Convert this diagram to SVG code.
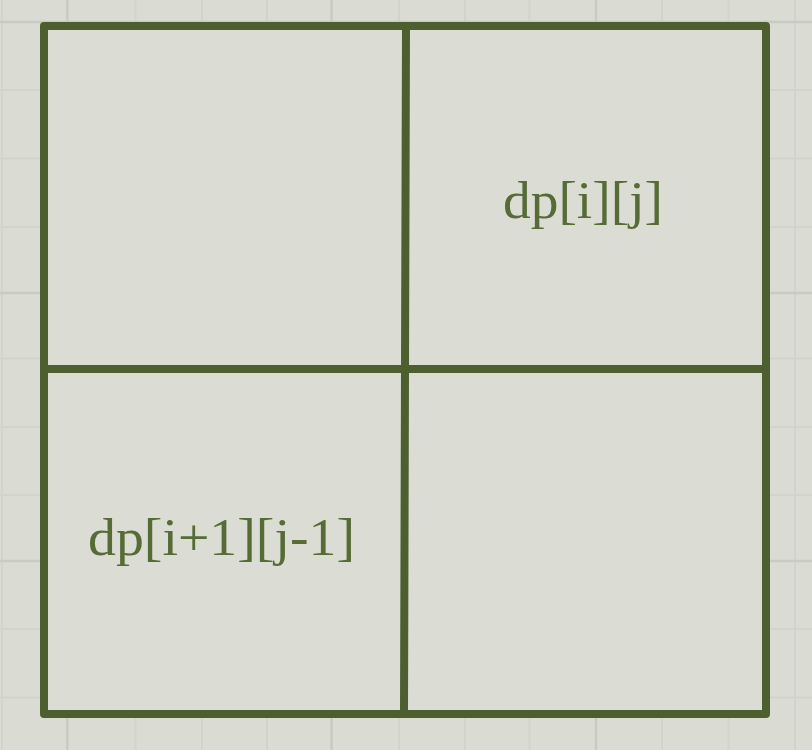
<svg xmlns="http://www.w3.org/2000/svg" width="812" height="750" viewBox="0 0 812 750">
<style>
.minor{stroke:#d1d4c9;stroke-width:2;fill:none}
.major{stroke:#c8ccbf;stroke-width:2.5;fill:none}
.edge{stroke:#4d5f2e;stroke-width:8;fill:none;stroke-linecap:round;stroke-linejoin:round}
.lbl{font-family:"Liberation Serif","Times New Roman",serif;font-size:52px;fill:#566b35}
</style>
<rect x="0" y="0" width="812" height="750" fill="#dadcd3"/>
<g id="grid">
<path class="minor" d="M2 0V750M135.5 0V750M202 0V750M267 0V750M399 0V750M465 0V750M529.5 0V750M662 0V750M728.5 0V750M795 0V750"/>
<path class="major" d="M67.3 0V750M331.6 0V750M596 0V750"/>
<path class="minor" d="M0 90H812M0 158.5H812M0 227H812M0 358.5H812M0 427H812M0 495H812M0 629H812M0 697.6H812"/>
<path class="major" d="M0 22H812M0 293H812M0 561H812"/>
</g>
<g id="cell-tl"><rect x="44" y="26" width="361" height="343" fill="#dbddd4"/></g>
<g id="cell-tr"><rect x="405" y="26" width="361" height="343" fill="#dbddd4"/>
<text class="lbl" x="503" y="218" textLength="160" lengthAdjust="spacingAndGlyphs">dp[i][j]</text></g>
<g id="cell-bl"><rect x="44" y="369" width="361" height="345" fill="#dbddd4"/>
<text class="lbl" x="88" y="555" textLength="267" lengthAdjust="spacingAndGlyphs">dp[i+1][j-1]</text></g>
<g id="cell-br"><rect x="405" y="369" width="361" height="345" fill="#dbddd4"/></g>
<g id="connectors">
<rect class="edge" x="44" y="26" width="722" height="688"/>
<path class="edge" d="M406 26L404 714"/>
<path class="edge" d="M44 369H766"/>
</g>
</svg>
